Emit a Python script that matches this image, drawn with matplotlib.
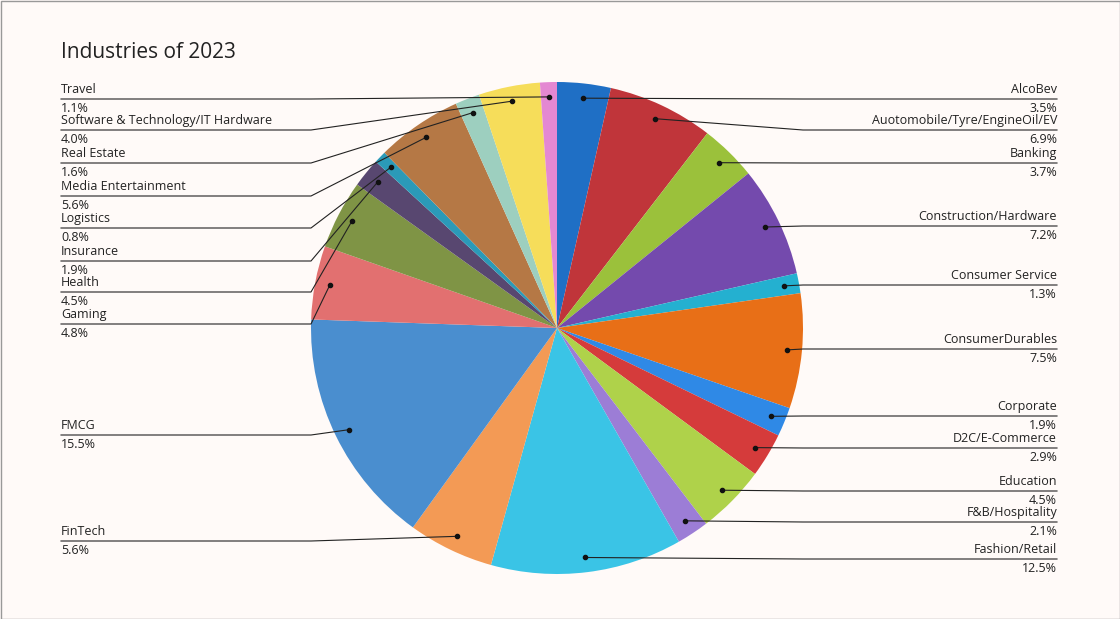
import matplotlib
matplotlib.use("Agg")
import matplotlib.pyplot as plt
import numpy as np

labels = ["AlcoBev","Auotomobile/Tyre/EngineOil/EV","Banking","Construction/Hardware","Consumer Service",
          "ConsumerDurables","Corporate","D2C/E-Commerce","Education","F&B/Hospitality","Fashion/Retail",
          "FinTech","FMCG","Gaming","Health","Insurance","Logistics","Media Entertainment","Real Estate",
          "Software & Technology/IT Hardware","Travel"]
values = [3.5,6.9,3.7,7.2,1.3,7.5,1.9,2.9,4.5,2.1,12.5,5.6,15.5,4.8,4.5,1.9,0.8,5.6,1.6,4.0,1.1]
colors = ["#1f6fc5","#c0353a","#9bc13b","#744aad","#24b0d0","#e86f17","#2f89e6","#d53b3b","#afd24a",
          "#9c7dd6","#3ac4e6","#f39a55","#4a8ecf","#e27070","#7f9445","#584770","#2b9ab8","#b57845",
          "#9dcfbf","#f6dd5a","#e488d2"]
# label line y positions in pixels (layout)
label_y = [99,130,163,226,285,349,416,448,491,522,559,541,435,324,292,261,228,196,163,130,99]

W, H = 1120, 619
fig = plt.figure(figsize=(W/100, H/100), dpi=100, facecolor="#fffaf8")
ax = fig.add_axes([0, 0, 1, 1])
ax.set_facecolor("#fffaf8")
cx, cy, r = 557, H - 328, 246
wedges, _ = ax.pie(values, colors=colors, startangle=90, counterclock=False,
                   center=(cx, cy), radius=r, frame=True, wedgeprops=dict(linewidth=0))
ax.set_xlim(0, W); ax.set_ylim(0, H); ax.set_aspect("equal"); ax.axis("off")
fig.patches.append(plt.Rectangle((0.5/W, 0.5/H), 1-1/W, 1-1/H, transform=fig.transFigure,
                                 fill=False, edgecolor="#999999", linewidth=1))

ax.text(61, H-52, "Industries of 2023", fontsize=15, family="Open Sans", va="center", ha="left", color="#222")

total = sum(values)
for w, lab, v, ly in zip(wedges, labels, values, label_y):
    ang = np.deg2rad((w.theta1 + w.theta2) / 2)
    dx, dy = cx + 0.94*r*np.cos(ang), cy + 0.94*r*np.sin(ang)
    y = H - ly
    right = np.cos(ang) > 0
    ex = cx + r if right else cx - r
    tx = 1057 if right else 61
    ax.plot([dx, ex, tx], [dy, y, y], color="#222", lw=0.8)
    ax.plot(dx, dy, "o", color="#111", ms=3)
    ha = "right" if right else "left"
    ax.text(tx, y+3, lab, ha=ha, va="bottom", fontsize=9, family="Open Sans", color="#222")
    ax.text(tx, y-3, f"{v:.1f}%", ha=ha, va="top", fontsize=9, family="Open Sans", color="#222")

fig.savefig("out.png", dpi=100, facecolor=fig.get_facecolor())
